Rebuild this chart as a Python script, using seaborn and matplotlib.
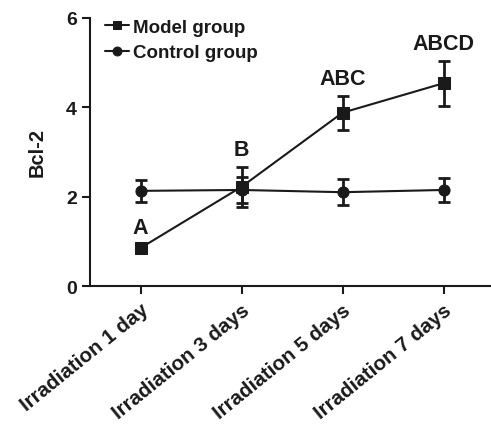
import matplotlib
matplotlib.use("Agg")
import matplotlib.pyplot as plt
import seaborn as sns
import numpy as np
import pandas as pd

days = ["Irradiation 1 day", "Irradiation 3 days", "Irradiation 5 days", "Irradiation 7 days"]
model_mean = [0.85, 2.22, 3.88, 4.54]
model_err = [0.06, 0.45, 0.38, 0.50]
control_mean = [2.13, 2.15, 2.10, 2.15]
control_err = [0.24, 0.30, 0.29, 0.27]
letters = ["A", "B", "ABC", "ABCD"]

sns.set_style("ticks")
plt.rcParams["font.family"] = ["Liberation Sans", "DejaVu Sans"]
plt.rcParams["font.weight"] = "bold"

pos = np.arange(len(days))
df = pd.DataFrame({
    "pos": np.concatenate([pos, pos]),
    "val": model_mean + control_mean,
    "group": ["Model group"] * 4 + ["Control group"] * 4,
})

fig = plt.figure(figsize=(4.91, 4.27), dpi=100)
ax = fig.add_axes([90/491, 140/427, 401/491, 268/427])

sns.lineplot(data=df, x="pos", y="val", hue="group", style="group",
             markers={"Model group": "s", "Control group": "o"}, dashes=False,
             palette={"Model group": "#1a1a1a", "Control group": "#1a1a1a"},
             markersize=8, linewidth=1.5, markeredgecolor="#1a1a1a", ax=ax)
ax.errorbar(pos, model_mean, yerr=model_err, fmt="none", ecolor="#1a1a1a",
            elinewidth=2, capsize=4, capthick=2)
ax.errorbar(pos, control_mean, yerr=control_err, fmt="none", ecolor="#1a1a1a",
            elinewidth=2, capsize=4, capthick=2)

for i, lab in enumerate(letters):
    ax.annotate(lab, (pos[i], model_mean[i] + model_err[i]), xytext=(0, 5),
                textcoords="offset points", ha="center", va="bottom",
                fontsize=15.5, fontweight="bold", color="#1a1a1a")

ax.set_xlim(-0.5, 3.47)
ax.set_ylim(0, 6)
ax.set_yticks([0, 2, 4, 6])
ax.set_xticks(pos)
ax.set_xticklabels(days, rotation=39, ha="right", rotation_mode="anchor",
                   fontsize=14.8, fontweight="bold", color="#1a1a1a")
ax.tick_params(axis="y", labelsize=14, colors="#1a1a1a", length=6, width=1.5)
ax.tick_params(axis="x", length=6, width=1.5, colors="#1a1a1a", pad=4)
ax.set_xlabel("")
ax.set_ylabel("Bcl-2", fontsize=14.5, fontweight="bold", color="#1a1a1a", labelpad=14)
for s in ["left", "bottom"]:
    ax.spines[s].set_linewidth(1.5)
    ax.spines[s].set_color("#1a1a1a")
sns.despine(ax=ax)

leg = ax.legend(loc="upper left", bbox_to_anchor=(-0.005, 1.06), frameon=False,
                fontsize=13.5, handlelength=1.3, handletextpad=0.2, labelspacing=0.45,
                markerscale=0.8)
for t in leg.get_texts():
    t.set_fontweight("bold")
    t.set_color("#1a1a1a")

fig.savefig("out.png", dpi=100)
